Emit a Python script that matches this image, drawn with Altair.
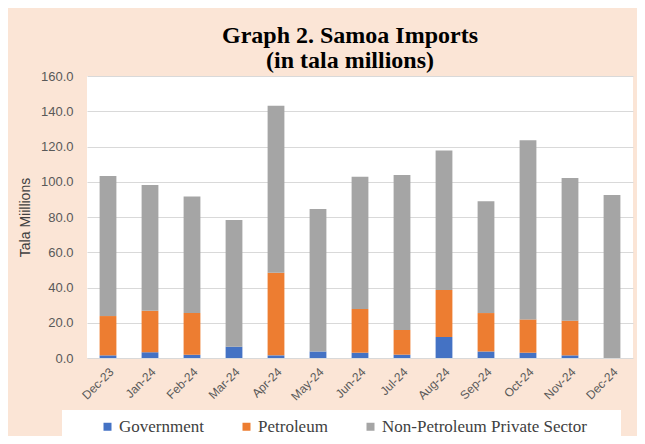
import altair as alt
import pandas as pd

months = ["Dec-23", "Jan-24", "Feb-24", "Mar-24", "Apr-24", "May-24", "Jun-24",
          "Jul-24", "Aug-24", "Sep-24", "Oct-24", "Nov-24", "Dec-24"]
government = [1.5, 3.2, 1.9, 6.4, 1.5, 3.7, 3.0, 1.9, 11.9, 3.7, 3.0, 1.5, 0.0]
petroleum = [22.3, 23.6, 23.6, 0.0, 46.9, 0.0, 24.8, 14.0, 26.7, 21.8, 18.9, 19.7, 0.0]
non_petroleum = [79.5, 71.4, 66.2, 71.9, 94.7, 80.8, 75.1, 87.9, 79.2, 63.4, 101.6, 80.9, 92.5]
series = ["Government", "Petroleum", "Non-Petroleum Private Sector"]
colors = ["#4472C4", "#ED7D31", "#A5A5A5"]
y_ticks = [0, 20, 40, 60, 80, 100, 120, 140, 160]

rows = []
for i, m in enumerate(months):
    for k, (s, vals) in enumerate(zip(series, [government, petroleum, non_petroleum])):
        rows.append({"Month": m, "Series": s, "Value": vals[i], "Order": k})
df = pd.DataFrame(rows)

chart = alt.Chart(df).mark_bar().encode(
    x=alt.X("Month:N", sort=months,
            scale=alt.Scale(paddingInner=0.6, paddingOuter=0.3),
            axis=alt.Axis(title=None, labelAngle=-45, labelFont="Liberation Sans",
                          labelFontSize=12, labelColor="#595959", domain=False,
                          ticks=False, tickSize=0, labelPadding=8)),
    y=alt.Y("Value:Q", stack="zero",
            scale=alt.Scale(domain=[0, 160]),
            axis=alt.Axis(title="Tala Miillions", values=y_ticks, format=".1f",
                          labelFont="Liberation Sans", labelFontSize=13,
                          labelColor="#595959", domain=False, ticks=False, tickSize=0,
                          labelPadding=14, gridColor="#D9D9D9", gridWidth=1.2,
                          titleFont="Liberation Sans", titleFontSize=14,
                          titleFontWeight="normal", titleColor="#404040",
                          titlePadding=8)),
    color=alt.Color("Series:N",
                    scale=alt.Scale(domain=series, range=colors),
                    legend=alt.Legend(title=" ", orient="none", legendX=-25, legendY=334,
                                      direction="horizontal", fillColor="white",
                                      padding=8, symbolType="square", symbolSize=64,
                                      symbolStrokeWidth=0, labelFont="Liberation Serif",
                                      labelFontSize=17, labelColor="#404040",
                                      labelOffset=3, columnPadding=5,
                                      symbolOffset=29, titleOrient="right",
                                      titlePadding=26, labelLimit=400)),
    order=alt.Order("Order:Q", sort="ascending"),
).properties(
    width=546,
    height=282,
    title=alt.TitleParams(text=["Graph 2. Samoa Imports", "(in tala millions)"],
                          font="Liberation Serif", fontSize=24, fontWeight="bold",
                          color="black", lineHeight=25, anchor="middle", dx=-10,
                          baseline="alphabetic", offset=-22),
    autosize=alt.AutoSizeParams(type="none"),
    padding={"left": 79, "top": 68, "right": 4, "bottom": 78},
    background="#FBE5D6",
).configure_view(fill="white", stroke=None)

chart.save("out.html", embed_options={"renderer": "svg", "actions": False})
